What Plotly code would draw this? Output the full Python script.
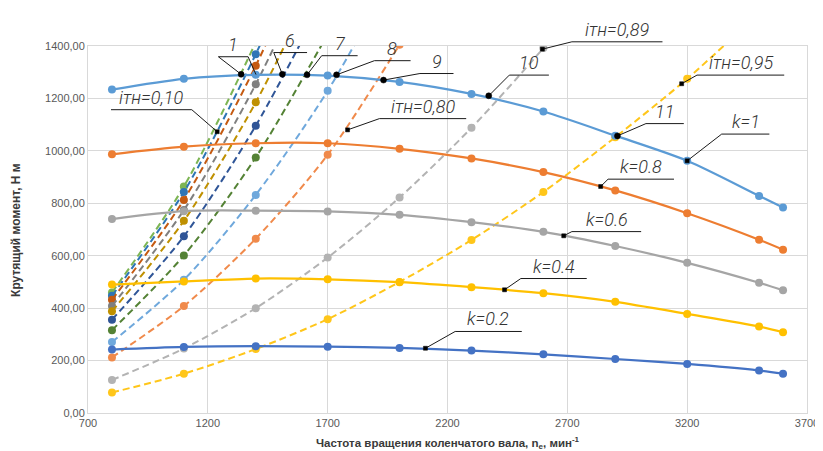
import plotly.graph_objects as go

# ---------------- data ----------------
n_k = [800, 1100, 1400, 1700, 2000, 2300, 2600, 2900, 3200, 3500, 3600]
k_1 = [1234, 1275, 1290, 1287, 1263, 1217, 1150, 1058, 962, 828, 784]
k_08 = [987, 1016, 1029, 1029, 1008, 971, 919, 849, 762, 661, 623]
k_06 = [740, 770, 772, 769, 756, 728, 691, 637, 573, 497, 468]
k_04 = [490, 502, 513, 510, 499, 480, 457, 424, 378, 330, 308]
k_02 = [242, 252, 255, 253, 248, 238, 224, 206, 187, 162, 150]

n_d = [800, 1100, 1400, 1700, 2000, 2300, 2600, 2900, 3200, 3500]
d_010 = [460, 864, 1414]
d_2 = [447, 843, 1369, 2000]
d_3 = [432, 813, 1325, 1940]
d_4 = [408, 774, 1254, 1840]
d_5 = [388, 733, 1185, 1745]
d_6 = [356, 674, 1096, 1610]
d_7 = [316, 601, 975, 1445]
d_8 = [271, 508, 832, 1229, 1720]
d_080 = [212, 408, 665, 985, 1405]
d_089 = [126, 246, 400, 593, 822, 1088, 1392, 1720]
d_095 = [78, 150, 244, 358, 500, 660, 843, 1052, 1275, 1525]

x_ticks = [700, 1200, 1700, 2200, 2700, 3200, 3700]
y_ticks = [0, 200, 400, 600, 800, 1000, 1200, 1400]
y_ticktext = ["0,00", "200,00", "400,00", "600,00", "800,00", "1000,00", "1200,00", "1400,00"]

X0, X1 = 700, 3700
Y0, Y1 = 0, 1400

fig = go.Figure()

dashed = [
    ("iтн=0,10", d_010, "#7DB553"),
    ("iтн 2", d_2, "#2E75B6"),
    ("iтн 3", d_3, "#C55A11"),
    ("iтн 4", d_4, "#7F7F7F"),
    ("iтн 5", d_5, "#BF9000"),
    ("iтн 6", d_6, "#2F5597"),
    ("iтн 7", d_7, "#548235"),
    ("iтн 8", d_8, "#6FA8DC"),
    ("iтн=0,80", d_080, "#F08A4B"),
    ("iтн=0,89", d_089, "#B3B3B3"),
    ("iтн=0,95", d_095, "#FFC61A"),
]
for name, vals, col in dashed:
    fig.add_trace(go.Scatter(
        x=n_d[:len(vals)], y=vals, name=name, mode="lines+markers",
        line=dict(color=col, width=2, dash="7px,4px", shape="spline", smoothing=0.8),
        marker=dict(color=col, size=8),
    ))

solid = [
    ("k=1", k_1, "#5B9BD5"),
    ("k=0.8", k_08, "#ED7D31"),
    ("k=0.6", k_06, "#A5A5A5"),
    ("k=0.4", k_04, "#FFC000"),
    ("k=0.2", k_02, "#4472C4"),
]
for name, vals, col in solid:
    fig.add_trace(go.Scatter(
        x=n_k, y=vals, name=name, mode="lines+markers",
        line=dict(color=col, width=2.25, shape="spline", smoothing=0.8),
        marker=dict(color=col, size=8),
    ))

# ---------------- callouts (leader + underline + text) ----------------
callouts = [
    ("1", 1244, 1368, 1359, [("L", 1339, 1292, "big"), ("R", 1401, 1291, None)]),
    ("6", 1475, 1614, 1375, [("L", 1511, 1292, "big")]),
    ("7", 1675, 1825, 1363, [("L", 1614, 1290, "big")]),
    ("8", 1895, 2046, 1344, [("L", 1737, 1290, "big")]),
    ("9", 2085, 2225, 1295, [("L", 1933, 1270, "big")]),
    ("10", 2458, 2623, 1289, [("L", 2372, 1210, "big")]),
    ("11", 3028, 3186, 1104, [("L", 2909, 1057, "big")]),
    ("k=1", 3344, 3543, 1064, [("L", 3200, 962, "small")]),
    ("k=0.8", 2870, 3145, 892, [("L", 2839, 864, "small")]),
    ("k=0.6", 2719, 3008, 692, [("L", 2685, 676, "small")]),
    ("k=0.4", 2506, 2781, 513, [("L", 2438, 470, "small")]),
    ("k=0.2", 2232, 2510, 311, [("L", 2108, 247, "small")]),
    ("iтн=0,10", 796, 1133, 1157, [("R", 1239, 1073, "small")]),
    ("iтн=0,80", 1916, 2278, 1123, [("L", 1783, 1080, "small")]),
    ("iтн=0,89", 2719, 3097, 1416, [("L", 2596, 1388, "small")]),
    ("iтн=0,95", 3241, 3605, 1289, [("L", 3177, 1256, "small")]),
]


def px(n):
    return (n - X0) / (X1 - X0)


def py(t):
    return (t - Y0) / (Y1 - Y0)


shapes = []
annotations = []
LC = "#1a1a1a"
for text, u0, u1, ut, leaders in callouts:
    shapes.append(dict(type="line", xref="paper", yref="paper",
                       x0=px(u0), x1=px(u1), y0=py(ut), y1=py(ut),
                       line=dict(color=LC, width=1)))
    annotations.append(dict(
        x=(px(u0) + px(u1)) / 2, y=py(ut), xref="paper", yref="paper",
        text=text, showarrow=False, xanchor="center", yanchor="bottom",
        font=dict(family="Roboto, Liberation Sans, sans-serif",
                  size=18, color="#333333", style="italic", weight=300),
    ))
    for end, dn, dt, kind in leaders:
        en = u0 if end == "L" else u1
        shapes.append(dict(type="line", xref="paper", yref="paper",
                           x0=px(en), x1=px(dn), y0=py(ut), y1=py(dt),
                           line=dict(color=LC, width=1)))
        if kind is not None:
            r = 3 if kind == "big" else 2
            shapes.append(dict(type="circle" if kind == "big" else "rect",
                               xref="paper", yref="paper",
                               xsizemode="pixel", ysizemode="pixel",
                               xanchor=px(dn), yanchor=py(dt),
                               x0=-r, x1=r, y0=-r, y1=r,
                               fillcolor="#000000", line=dict(color="#000000", width=0.5)))

# axis titles
annotations.append(dict(
    x=0.5, y=-0.082, xref="paper", yref="paper", showarrow=False,
    text="Частота вращения коленчатого вала, n<sub>e</sub>, мин<sup>-1</sup>",
    font=dict(family="Liberation Sans, Arial, sans-serif", size=11.5, color="#3a3a3a", weight="bold"),
    xanchor="center", yanchor="middle",
))
annotations.append(dict(
    x=-0.101, y=0.5, xref="paper", yref="paper", showarrow=False, textangle=-90,
    text="Крутящий момент, Н м",
    font=dict(family="Liberation Sans, Arial, sans-serif", size=12, color="#3a3a3a", weight="bold"),
    xanchor="center", yanchor="middle",
))

grid = "#D9D9D9"
fig.update_layout(
    width=823, height=451,
    margin=dict(l=80, r=15, t=38, b=46),
    paper_bgcolor="white", plot_bgcolor="white",
    showlegend=False,
    shapes=shapes, annotations=annotations,
    xaxis=dict(range=[X0, X1], tickvals=x_ticks, showgrid=True, gridcolor=grid, gridwidth=1,
               showline=True, linecolor=grid, mirror=True, zeroline=False, ticks="",
               tickfont=dict(family="Liberation Sans, Arial, sans-serif", size=11, color="#595959")),
    yaxis=dict(range=[Y0, Y1], tickvals=y_ticks, ticktext=y_ticktext, showgrid=True, gridcolor=grid,
               gridwidth=1, showline=True, linecolor=grid, mirror=True, zeroline=False, ticks="",
               tickfont=dict(family="Liberation Sans, Arial, sans-serif", size=11, color="#595959")),
)

fig.write_html("out.html")
